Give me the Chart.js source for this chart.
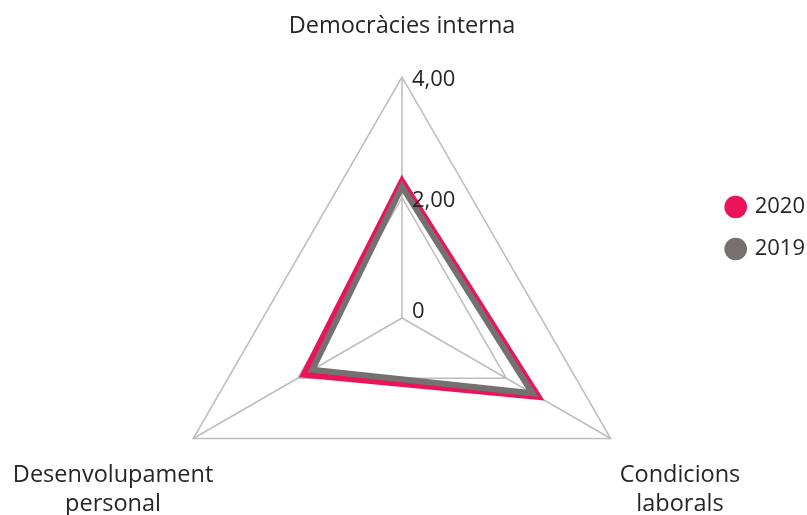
<!DOCTYPE html>
<html><head><meta charset="utf-8">
<script src="https://cdn.jsdelivr.net/npm/chart.js@4/dist/chart.umd.min.js"></script>
<style>html,body{margin:0;padding:0;background:#fff}#wrap{width:807px;height:515px}</style>
</head><body><div id="wrap"><canvas id="c" width="807" height="515"></canvas></div>
<script>
// ---- data ----
const categories = [['Democràcies interna'], ['Condicions', 'laborals'], ['Desenvolupament', 'personal']];
const seriesNames = ['2020', '2019'];
const values2020 = [2.26, 2.6, 1.87];
const values2019 = [2.18, 2.5, 1.72];
const tickValues = [0, 2, 4];
const tickLabels = ['0', '2,00', '4,00'];

// ---- style / layout ----
const RED = '#EC1459', GREY = '#767171', TEXT = '#262626', GRID = '#bdbdbd';
const FONT = "'Open Sans', 'Noto Sans', sans-serif";
const GEO = { cx: 402, cy: 318, r: 241 };

const labelPlugin = {
  id: 'radarText',
  afterDatasetsDraw(chart) {
    const s = chart.scales.r, ctx = chart.ctx;
    ctx.save();
    ctx.fillStyle = TEXT;
    // tick labels
    ctx.font = '22px ' + FONT;
    ctx.textAlign = 'left'; ctx.textBaseline = 'middle';
    tickValues.forEach((v, i) => {
      const d = s.getDistanceFromCenterForValue(v);
      const y = Math.min(s.yCenter - d + 3, s.yCenter - 6);
      ctx.fillText(tickLabels[i], s.xCenter + 10, y);
    });
    // point labels (multi-line, centred lines)
    ctx.font = '23.5px ' + FONT;
    const lh = 29;
    categories.forEach((lines, i) => {
      const p = s.getPointPosition(i, s.drawingArea);
      const w = Math.max(...lines.map(l => ctx.measureText(l).width));
      let cx, y0;
      if (Math.abs(p.x - s.xCenter) < 1) { cx = p.x; y0 = p.y - 51; }
      else if (p.x > s.xCenter) { cx = p.x + 9 + w / 2; y0 = p.y + 37; }
      else { cx = p.x + 20 - w / 2; y0 = p.y + 37; }
      ctx.textAlign = 'center';
      lines.forEach((l, k) => ctx.fillText(l, cx, y0 + k * lh));
    });
    ctx.restore();
  }
};

new Chart(document.getElementById('c'), {
  type: 'radar',
  data: {
    labels: categories.map(c => c.join(' ')),
    datasets: [
      { label: seriesNames[0], data: values2020, borderColor: RED, backgroundColor: RED, borderWidth: 7, fill: false, pointRadius: 0, order: 1 },
      { label: seriesNames[1], data: values2019, borderColor: GREY, backgroundColor: GREY, borderWidth: 6, fill: false, pointRadius: 0, order: 0 }
    ]
  },
  options: {
    responsive: false, animation: false,
    layout: { padding: { left: 0, top: 0, right: -8, bottom: 59 } },
    elements: { line: { tension: 0, borderJoinStyle: 'miter' } },
    plugins: {
      tooltip: { enabled: false },
      legend: {
        position: 'right',
        labels: {
          usePointStyle: true, pointStyle: 'circle', boxWidth: 16, boxHeight: 16, padding: 20,
          color: TEXT, font: { family: FONT, size: 22 },
          sort: (a, b) => a.datasetIndex - b.datasetIndex,
          generateLabels: (chart) => chart.data.datasets.map((d, i) => ({
            text: d.label, fillStyle: d.borderColor, strokeStyle: d.borderColor, lineWidth: 0,
            pointStyle: 'circle', datasetIndex: i, hidden: false, fontColor: TEXT
          }))
        }
      }
    },
    scales: {
      r: {
        min: 0, max: 4,
        ticks: { display: false, stepSize: 2 },
        pointLabels: { display: false },
        grid: { color: GRID, lineWidth: 1.5 },
        angleLines: { color: GRID, lineWidth: 1.5 },
        afterFit(s) { s.xCenter = GEO.cx; s.yCenter = GEO.cy; s.drawingArea = GEO.r; }
      }
    }
  },
  plugins: [labelPlugin]
});
</script></body></html>
